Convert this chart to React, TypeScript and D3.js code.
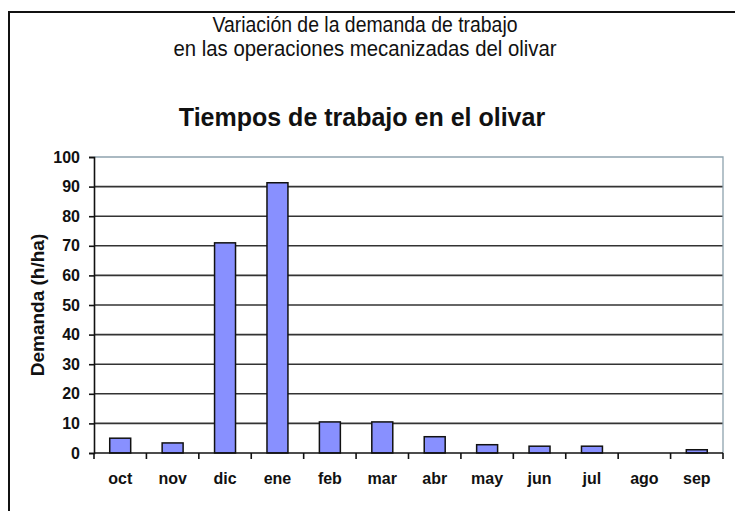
import { useEffect, useRef } from 'react';
import * as d3 from 'd3';

const MONTHS = ['oct', 'nov', 'dic', 'ene', 'feb', 'mar', 'abr', 'may', 'jun', 'jul', 'ago', 'sep'];
const DEMANDA = [5, 3.4, 71, 91.3, 10.5, 10.5, 5.5, 2.8, 2.3, 2.3, 0, 1.1];
const Y_TICKS = [0, 10, 20, 30, 40, 50, 60, 70, 80, 90, 100];
const TITLE_LINES = ['Variación de la demanda de trabajo', 'en las operaciones mecanizadas del olivar'];
const CHART_TITLE = 'Tiempos de trabajo en el olivar';
const Y_LABEL = 'Demanda (h/ha)';

const W = 735;
const H = 511;
const SANS = '"Liberation Sans", Arial, sans-serif';

function App() {
  const svgRef = useRef<SVGSVGElement>(null);

  useEffect(() => {
    const svg = d3.select(svgRef.current);
    svg.selectAll('*').remove();

    const m = { left: 94, right: 723, top: 157, bottom: 453 };

    const x = d3.scaleBand().domain(MONTHS).range([m.left, m.right]).paddingInner(0.6).paddingOuter(0.3);
    const xb = d3.scaleBand().domain(MONTHS).range([m.left, m.right]);
    const y = d3.scaleLinear().domain([0, 100]).range([m.bottom, m.top]);

    svg.append('rect').attr('width', W).attr('height', H).attr('fill', '#fff');

    // outer frame, runs off the right and bottom edges
    svg
      .append('rect')
      .attr('x', 9)
      .attr('y', 12)
      .attr('width', W + 20)
      .attr('height', H + 20)
      .attr('fill', 'none')
      .attr('stroke', '#111')
      .attr('stroke-width', 2);

    // condensed heading, squeezed with textLength
    const widths = [305, 383];
    svg
      .append('g')
      .selectAll('text')
      .data(TITLE_LINES)
      .enter()
      .append('text')
      .attr('x', (d, i) => 365 - widths[i] / 2)
      .attr('y', (d, i) => 32 + i * 24)
      .attr('textLength', (d, i) => widths[i])
      .attr('lengthAdjust', 'spacingAndGlyphs')
      .attr('font-family', SANS)
      .attr('font-size', 22)
      .attr('fill', '#111')
      .text((d) => d);

    svg
      .append('text')
      .attr('x', 362)
      .attr('y', 126)
      .attr('text-anchor', 'middle')
      .attr('font-family', SANS)
      .attr('font-weight', 'bold')
      .attr('font-size', 25)
      .attr('fill', '#111')
      .text(CHART_TITLE);

    // gridlines
    svg
      .append('g')
      .selectAll('line')
      .data(Y_TICKS.filter((t) => t > 0 && t < 100))
      .enter()
      .append('line')
      .attr('x1', m.left)
      .attr('x2', m.right)
      .attr('y1', (d) => y(d))
      .attr('y2', (d) => y(d))
      .attr('stroke', '#333')
      .attr('stroke-width', 1.6);

    // plot frame top/right
    svg
      .append('path')
      .attr('d', `M${m.left},${y(100)}H${m.right}V${y(0)}`)
      .attr('fill', 'none')
      .attr('stroke', '#8ea3ae')
      .attr('stroke-width', 1.3);

    svg
      .append('g')
      .selectAll('rect')
      .data(DEMANDA)
      .enter()
      .append('rect')
      .attr('x', (d, i) => x(MONTHS[i])!)
      .attr('y', (d) => y(d))
      .attr('width', x.bandwidth())
      .attr('height', (d) => y(0) - y(d))
      .attr('fill', '#8890ff')
      .attr('stroke', '#111')
      .attr('stroke-width', 1.5)
      .attr('display', (d) => (d > 0 ? null : 'none'));

    // y axis
    const yAxis = svg
      .append('g')
      .attr('transform', `translate(${m.left},0)`)
      .call(d3.axisLeft(y).tickValues(Y_TICKS).tickSize(5).tickPadding(9));
    yAxis.select('.domain').attr('stroke', '#111').attr('stroke-width', 1.6);
    yAxis.selectAll('.tick line').attr('stroke', '#111').attr('stroke-width', 1.6);
    yAxis
      .selectAll('.tick text')
      .attr('font-family', SANS)
      .attr('font-weight', 'bold')
      .attr('font-size', 16)
      .attr('fill', '#111');

    // x axis with ticks at category boundaries
    const xAxis = svg.append('g');
    xAxis
      .append('line')
      .attr('x1', m.left)
      .attr('x2', m.right)
      .attr('y1', y(0))
      .attr('y2', y(0))
      .attr('stroke', '#111')
      .attr('stroke-width', 1.6);
    xAxis
      .selectAll('line.tk')
      .data([...MONTHS.map((d) => xb(d)!), m.right])
      .enter()
      .append('line')
      .attr('class', 'tk')
      .attr('x1', (d) => d)
      .attr('x2', (d) => d)
      .attr('y1', y(0))
      .attr('y2', y(0) + 6)
      .attr('stroke', '#111')
      .attr('stroke-width', 1.6);
    xAxis
      .selectAll('text')
      .data(MONTHS)
      .enter()
      .append('text')
      .attr('x', (d) => xb(d)! + xb.bandwidth() / 2)
      .attr('y', 484)
      .attr('text-anchor', 'middle')
      .attr('font-family', SANS)
      .attr('font-weight', 'bold')
      .attr('font-size', 16)
      .attr('fill', '#111')
      .text((d) => d);

    svg
      .append('text')
      .attr('transform', `translate(44,${(m.top + m.bottom) / 2}) rotate(-90)`)
      .attr('text-anchor', 'middle')
      .attr('font-family', SANS)
      .attr('font-weight', 'bold')
      .attr('font-size', 19)
      .attr('fill', '#111')
      .text(Y_LABEL);
  }, []);

  return (
    <svg
      ref={svgRef}
      width={W}
      height={H}
      style={{ position: 'absolute', left: 0, top: 0, display: 'block' }}
    />
  );
}

export default App;
